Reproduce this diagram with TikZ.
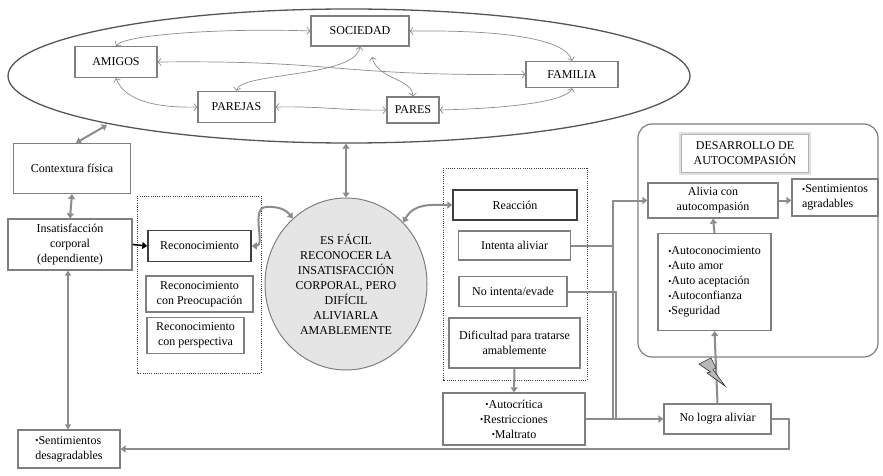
\documentclass[tikz,border=0pt]{standalone}
\usepackage{fontspec}
\setmainfont{Liberation Serif}
\usetikzlibrary{arrows.meta,shapes.geometric}
\definecolor{bx}{HTML}{7F7F7F}
\definecolor{dk}{HTML}{3F3F3F}
\definecolor{ln}{HTML}{8C8C8C}
\definecolor{el}{HTML}{555555}
\newcommand{\bul}{{\fontsize{9pt}{9pt}\selectfont\raisebox{0.15ex}{•}}}
\begin{document}
\begin{tikzpicture}[x=1pt,y=-1pt,
  font=\fontsize{12pt}{15pt}\selectfont,
  box/.style={draw=bx,line width=1.2pt,fill=white,inner sep=1pt,align=center},
  darkbox/.style={box,draw=dk,line width=1.5pt},
  sz/.style 2 args={minimum width=#1,minimum height=#2},
  thinarr/.style={draw=ln,line width=0.7pt,{Straight Barb[length=3pt,width=7pt]}-{Straight Barb[length=3pt,width=7pt]}},
  thk/.style={draw=ln,line width=2pt,{Triangle[length=5pt,width=7pt]}-{Triangle[length=5pt,width=7pt]}},
  conn/.style={draw=ln,line width=2pt},
  tip/.tip={Triangle[length=5pt,width=7pt]},
  dotbox/.style={draw=dk,line width=1pt,dash pattern=on 1pt off 1.2pt}
]
\useasboundingbox (0,0) rectangle (883,476);

% ---------- ellipse group ----------
\node[draw=el,line width=1.3pt,ellipse,sz={682pt}{134pt}] (ell) at (349,76) {};
\node[box,sz={98pt}{30pt}] (soc) at (360,31) {SOCIEDAD};
\node[box,sz={82pt}{31pt}] (amigos) at (116,62) {AMIGOS};
\node[box,sz={77pt}{31pt}] (parejas) at (236.5,107) {PAREJAS};
\node[box,sz={52pt}{26pt}] (pares) at (413,110) {PARES};
\node[box,sz={92pt}{26pt}] (fam) at (572,74.5) {FAMILIA};

\draw[thinarr] (amigos.north) .. controls (125,34) and (230,28) .. (soc.west);
\draw[thinarr] (soc.east) .. controls (500,30) and (565,38) .. (fam.north);
\draw[thinarr] (amigos.east) .. controls (340,60) and (330,76) .. (fam.west);
\draw[thinarr] (amigos.south) .. controls (125,102) and (160,108) .. (parejas.west);
\draw[thinarr] (parejas.east) .. controls (320,106) and (350,111) .. (pares.west);
\draw[thinarr] (pares.east) .. controls (520,108) and (568,100) .. (fam.south);
\draw[thinarr] (parejas.north) .. controls (240,72) and (355,78) .. (soc.south);
\coordinate (p8) at (372,57);
\draw[thinarr] (pares.north) .. controls (412,78) and (378,80) .. (p8);

% ---------- left column ----------
\node[box,sz={117pt}{50pt}] (cont) at (72,168.5) {Contextura física};
\node[box,sz={124pt}{51pt}] (insat) at (70,244.5) {Insatisfacción\\corporal\\(dependiente)};
\node[box,sz={102pt}{38pt},align=left] (sentdes) at (69,449) {\bul Sentimientos\\desagradables};

\coordinate (e1) at (107,125);
\draw[thk] (cont.north -| 76,0) -- (e1);
\draw[thk] (cont.south) -- (insat.north);
\draw[draw=ln,line width=1.2pt,{Triangle[length=5pt,width=6pt]}-{Triangle[length=5pt,width=6pt]}] (insat.south -| 68,0) -- (sentdes.north -| 68,0);

% ---------- left dotted group ----------
\draw[dotbox] (137,196) rectangle (261,373);
\node[darkbox,sz={103pt}{31pt}] (rec) at (199.5,246) {Reconocimiento};
\node[box,sz={107pt}{36pt}] (recp) at (199.5,294) {Reconocimiento\\con Preocupación};
\node[box,sz={97pt}{36pt}] (recv) at (195.5,335.5) {Reconocimiento\\con perspectiva};
\draw[draw=black,line width=1.6pt,-{Triangle[length=5pt,width=7pt]}] (insat.east) -- (rec.west);

% ---------- circle ----------
\node[ellipse,draw=bx,line width=1pt,fill=gray!20,sz={162pt}{172pt},align=center,inner sep=0pt] (circ) at (346,284)
  {ES FÁCIL\\RECONOCER LA\\INSATISFACCIÓN\\CORPORAL, PERO\\DIFÍCIL\\ALIVIARLA\\AMABLEMENTE};
\draw[thk] (circ.north) -- (circ.north |- ell.south);
\draw[thk] (rec.east) .. controls (266,246) and (250,208) .. (266,207) .. controls (280,206) and (287,211) .. (circ.129);

% ---------- right dotted group ----------
\draw[dotbox] (443,168) rectangle (587,380);
\node[darkbox,sz={124pt}{30pt}] (reac) at (515,205) {Reacción};
\node[box,sz={112pt}{29pt}] (intenta) at (514.5,245.5) {Intenta aliviar};
\node[box,sz={108pt}{30pt}] (noint) at (513,291.5) {No intenta/evade};
\node[box,sz={131pt}{50pt}] (dific) at (514.5,343) {Dificultad para tratarse\\amablemente};
\draw[thk] (circ.47) .. controls (414,203) and (430,205) .. (reac.west);

\node[box,sz={142pt}{52pt}] (autoc) at (514,419) {\bul Autocrítica\\\bul Restricciones\\\bul Maltrato};
\node[box,sz={107pt}{30pt}] (nologra) at (717.5,419) {No logra aliviar};
\draw[conn,-tip] (dific.south) -- (autoc.north);

% ---------- right rounded group ----------
\draw[draw=bx,line width=1.2pt,rounded corners=14pt] (638,124) rectangle (878,357);
\node[box,sz={127pt}{38pt},draw=gray!60,line width=1.8pt,preaction={draw=gray!25,line width=4.5pt}] (desa) at (745,153.5) {DESARROLLO DE\\AUTOCOMPASIÓN};
\node[box,sz={130pt}{35pt}] (alivia) at (713,200.5) {Alivia con\\autocompasión};
\node[box,sz={86pt}{37pt},align=left] (sentag) at (835,197.5) {\bul Sentimientos\\agradables};
\node[box,sz={113pt}{97pt},align=left] (autos) at (714.5,282) {\bul Autoconocimiento\\\bul Auto amor\\\bul Auto aceptación\\\bul Autoconfianza\\\bul Seguridad};

\coordinate (ja) at (613,419);
\coordinate (jb) at (616,419);
\draw[conn,-tip] (intenta.east) -| (ja |- alivia.west) -- (alivia.west);
\draw[conn] (intenta.east -| ja) -- (ja);
\draw[conn] (noint.east) -| (jb);
\draw[conn,-tip] (autoc.east) -- (nologra.west);
\draw[conn,-tip] (nologra.east) -- ++(17,0) |- (sentdes.east);
\draw[conn,-tip] (nologra.north) -- (autos.south);
\draw[conn,-tip] (autos.north) -- (alivia.south);
\draw[conn,-tip] (alivia.east) -- (alivia.east -| sentag.west);

% lightning bolt
\fill[gray!55,draw=gray!35!black,line width=0.6pt]
  (699,364) -- (711,358) -- (716,368) -- (713,369.5) -- (725,386) -- (707,373) -- (710.5,372) -- cycle;
\end{tikzpicture}
\end{document}
